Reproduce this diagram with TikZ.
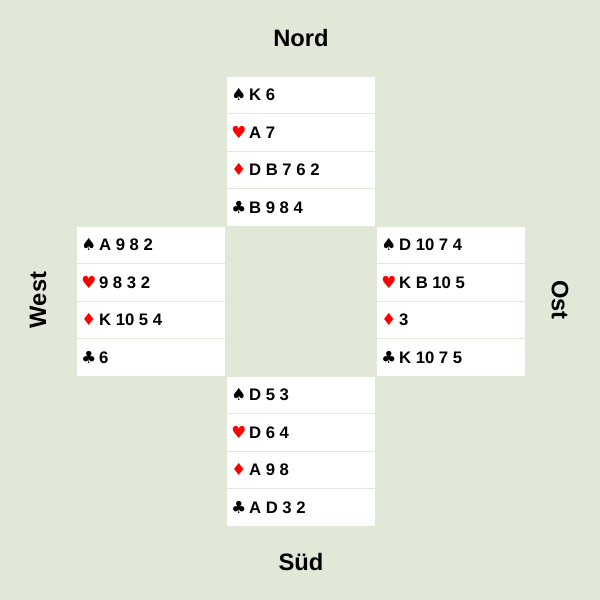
\documentclass[tikz,border=0pt]{standalone}
\usepackage{fontspec}
\setmainfont{Liberation Sans}
\newfontfamily\suitfont{DejaVu Sans}
\usetikzlibrary{positioning}
\definecolor{felt}{HTML}{E2E8D8}
\definecolor{suitred}{HTML}{FF0000}
\newcommand{\spd}{{\suitfont\char"2660}}
\newcommand{\hrt}{{\color{suitred}\suitfont\char"2665}}
\newcommand{\dia}{{\color{suitred}\suitfont\char"2666}}
\newcommand{\clb}{{\suitfont\char"2663}}
\begin{document}
\begin{tikzpicture}[x=0.02cm,y=-0.02cm,
    row/.style={fill=white, draw=felt, line width=0.02cm, minimum width=2.98cm, minimum height=0.75cm, anchor=north west, inner sep=0pt},
    card/.style={font=\fontsize{9.5}{11}\selectfont\bfseries, anchor=west, inner sep=0pt},
    seat/.style={font=\fontsize{13.5}{15}\selectfont\bfseries}
]
    % Table
    \fill[felt] (0,0) rectangle (600,600);

    % Hands: name / x / y / four suits
    \foreach \hand/\x/\y/\s/\h/\d/\c in {
        nord/226.5/75.5/K 6/A 7/D B 7 6 2/B 9 8 4,
        west/76.5/225.5/A 9 8 2/9 8 3 2/K 10 5 4/6,
        ost/376.5/225.5/D 10 7 4/K B 10 5/3/K 10 7 5,
        sued/226.5/375.5/D 5 3/D 6 4/A 9 8/A D 3 2} {
        \node[row] (\hand-s) at (\x,\y) {};
        \node[row] (\hand-h) at (\x,\y+37.5) {};
        \node[row] (\hand-d) at (\x,\y+75) {};
        \node[row] (\hand-c) at (\x,\y+112.5) {};
        \node[card] at ([xshift=0.09cm]\hand-s.west) {\spd\,\s};
        \node[card] at ([xshift=0.09cm]\hand-h.west) {\hrt\,\h};
        \node[card] at ([xshift=0.09cm]\hand-d.west) {\dia\,\d};
        \node[card] at ([xshift=0.09cm]\hand-c.west) {\clb\,\c};
    }

    % Seats
    \node[seat] (nordlabel) at (301,38) {Nord};
    \node[seat] (suedlabel) at (301,562) {Süd};
    \node[seat, rotate=90] (westlabel) at (38,300) {West};
    \node[seat, rotate=-90] (ostlabel) at (560,300) {Ost};
\end{tikzpicture}
\end{document}
